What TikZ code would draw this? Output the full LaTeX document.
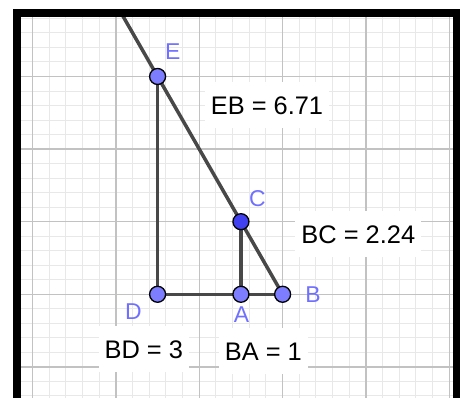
\documentclass[tikz,border=0pt]{standalone}
\usepackage{fontspec}
\setmainfont{Liberation Sans}
\usepackage{tikz}
\usetikzlibrary{
    calc,
    backgrounds
}

\definecolor{gridmajor}{RGB}{194,194,194}
\definecolor{gridminor}{RGB}{232,232,232}
\definecolor{segcol}{RGB}{72,72,72}
\definecolor{freept}{RGB}{125,125,255}
\definecolor{deppt}{RGB}{64,64,240}
\definecolor{lblcol}{RGB}{112,112,255}

\begin{document}
\begin{tikzpicture}[
x=41.67bp,
y=36.3bp,
pt/.style={
circle,
draw=black,
line width=1.3bp,
fill=freept,
minimum size=16bp,
inner sep=0pt
},
ptlabel/.style={
text=lblcol,
font=\fontsize{23}{26}\selectfont,
text height=16.5bp,
text depth=0pt,
inner sep=0pt
},
measure/.style={
fill=white,
font=\fontsize{25.5}{28}\selectfont,
text height=18.5bp,
text depth=0pt,
inner xsep=6bp,
minimum height=46bp
},
seg/.style={
draw=segcol,
line width=3.5bp,
line cap=round
}
]

\useasboundingbox (-3.782,-2.857) rectangle (7.257,8.107);

% points
\node[pt] (E) at (0,6) {};
\node[pt] (D) at (0,0) {};
\node[pt] (A) at (2,0) {};
\node[pt] (B) at (3,0) {};
\node[pt, fill=deppt] (C) at (2,2) {};

% point names
\node[ptlabel] (labE) at (0.362,6.683) {E};
\node[ptlabel] (labC) at (2.393,2.653) {C};
\node[ptlabel] (labD) at (-0.583,-0.455) {D};
\node[ptlabel] (labA) at (2.013,-0.556) {A};
\node[ptlabel] (labB) at (3.729,0.010) {B};

% lengths
\node[measure] (EB) at (2.625,5.215) {EB = 6.71};
\node[measure] (BC) at (4.817,1.647) {BC = 2.24};
\node[measure] (BD) at (-0.331,-1.521) {BD = 3};
\node[measure] (BA) at (2.537,-1.562) {BA = 1};

\begin{scope}[on background layer]
% grid
\begin{scope}
\clip (-3.278,-2.9) rectangle (7.089,7.639);
\foreach \i in {-10,...,15}
  \draw[gridminor, line width=1bp] ({1+0.4*\i},-3) -- ({1+0.4*\i},8);
\foreach \j in {-7,...,19}
  \draw[gridminor, line width=1bp] (-4,{0.4*\j}) -- (8,{0.4*\j});
\foreach \i in {-3,-1,...,7}
  \draw[gridmajor, line width=1.4bp] (\i,-3) -- (\i,8);
\foreach \j in {-2,0,...,6}
  \draw[gridmajor, line width=1.4bp] (-4,\j) -- (8,\j);
\end{scope}

% sides
\coordinate (top) at ($(B)!1.28!(E)$);
\draw[seg] (B.center) -- (top);
\draw[seg] (E.center) -- (D.center);
\draw[seg] (D.center) -- (B.center);
\draw[seg] (A.center) -- (C.center);

% frame
\draw[line width=8bp] (-3.374,-3.2) |- (7.185,7.741) -- (7.185,-3.2);
\end{scope}

\end{tikzpicture}
\end{document}
